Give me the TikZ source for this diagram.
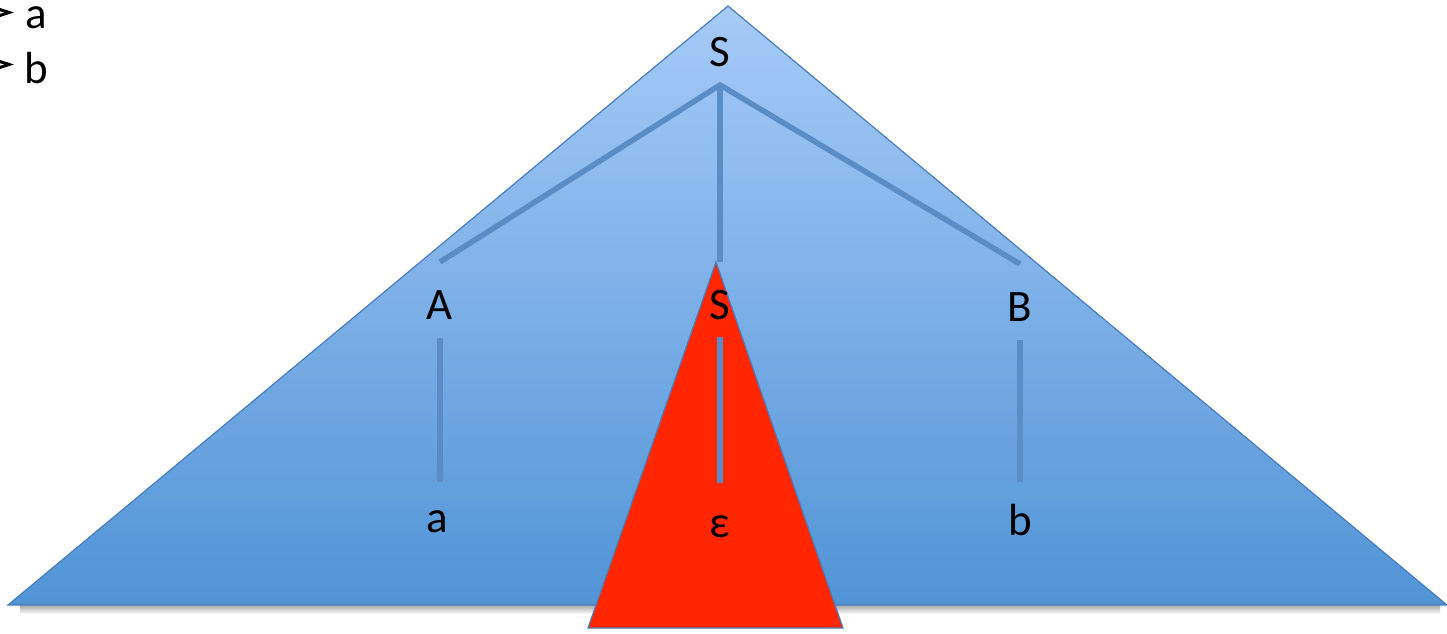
\documentclass[tikz,border=0pt]{standalone}
\usepackage{fontspec}
\setmainfont{Carlito}
\definecolor{triTop}{HTML}{A6CAF8}
\definecolor{triBot}{HTML}{5194D6}
\definecolor{edgeBlue}{HTML}{5A8CC6}
\definecolor{outlineBlue}{HTML}{4A7EBB}
\definecolor{hotRed}{HTML}{FF2600}
\tikzset{
  lbl/.style={font=\fontsize{45}{50}\selectfont, text=black, inner sep=0pt},
  treeedge/.style={draw=edgeBlue, line width=5.5pt, line cap=butt},
  bulletarrow/.style={fill=black},
}
\begin{document}
\begin{tikzpicture}[x=1pt,y=-1pt]
\useasboundingbox (0,0) rectangle (1447,633);
\fill[white] (0,0) rectangle (1447,633);
% shadow under base
\shade[top color=black!35, bottom color=white] (20,605) rectangle (1440,614);
% big blue triangle
\coordinate (BT) at (728,6);
\coordinate (BL) at (8,605);
\coordinate (BR) at (1447,605);
\shade[top color=triTop, bottom color=triBot, draw=outlineBlue, line width=1.2pt]
  (BT) -- (BR) -- (BL) -- cycle;
% red triangle
\coordinate (RT) at (716,262);
\coordinate (RL) at (588,628);
\coordinate (RR) at (843,628);
\filldraw[fill=hotRed, draw=outlineBlue, line width=1.2pt] (RT) -- (RR) -- (RL) -- cycle;
% labels
\node[lbl] (S1) at (720,52) {S};
\node[lbl] (A) at (440,305) {A};
\node[lbl] (S2) at (720,305) {S};
\node[lbl] (B) at (1020,307) {B};
\node[lbl] (a) at (437,522) {a};
\node[lbl] (eps) at (720,527) {ε};
\node[lbl] (b) at (1020,520) {b};
% connector end points
\coordinate (Sj) at (720,85);
\coordinate (Aj) at (440,262);
\coordinate (S2j) at (720,262);
\coordinate (Bj) at (1020,264);
\coordinate (Ad) at (440,338);
\coordinate (Ae) at (440,482);
\coordinate (Sd) at (720,337);
\coordinate (Se) at (720,483);
\coordinate (Bd) at (1020,340);
\coordinate (Be) at (1020,482);
\draw[treeedge] (Aj) -- (Sj) -- (Bj);
\draw[treeedge] (Sj) -- (S2j);
\draw[treeedge] (Ad) -- (Ae);
\draw[treeedge] (Sd) -- (Se);
\draw[treeedge] (Bd) -- (Be);
% top-left rules, cut off at the left edge as in the reference
\fill[bulletarrow] (-3,7) -- (14,12.5) -- (-3,18) -- (-3,14.5) -- (5,12.5) -- (-3,10.5) -- cycle;
\node[lbl] (ra) at (36,18) {a};
\fill[bulletarrow] (-3,59) -- (14,64.5) -- (-3,70) -- (-3,66.5) -- (5,64.5) -- (-3,62.5) -- cycle;
\node[lbl] (rb) at (36,68) {b};
\end{tikzpicture}
\end{document}
